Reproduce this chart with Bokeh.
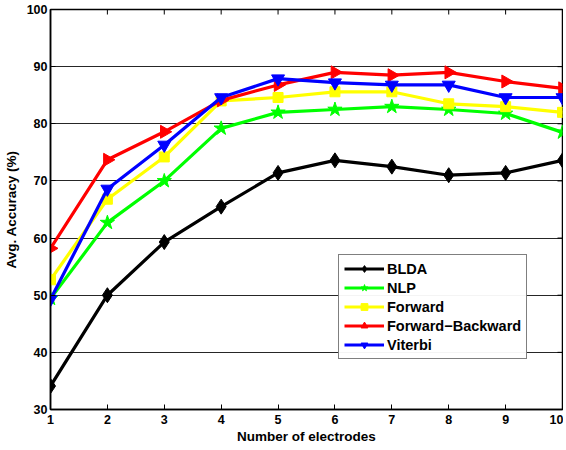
import numpy as np
from bokeh.plotting import figure
from bokeh.models import FixedTicker, Range1d, Legend
from bokeh.embed import file_html
from bokeh.resources import INLINE

electrodes = [1, 2, 3, 4, 5, 6, 7, 8, 9, 10]
blda = [34.1, 50.0, 59.3, 65.5, 71.4, 73.6, 72.5, 71.0, 71.4, 73.6]
nlp = [49.4, 62.7, 70.0, 79.2, 82.0, 82.5, 83.0, 82.5, 81.8, 78.5]
forward = [52.7, 66.8, 74.2, 84.0, 84.6, 85.6, 85.6, 83.5, 83.0, 82.0]
fwd_bwd = [58.2, 73.7, 78.6, 84.1, 86.8, 89.0, 88.5, 89.0, 87.4, 86.2]
viterbi = [49.3, 68.6, 76.3, 84.6, 87.9, 87.2, 86.8, 86.8, 84.6, 84.6]
y_ticks = [30, 40, 50, 60, 70, 80, 90, 100]

FONT = "Liberation Sans"
X_MIN, X_MAX, Y_MIN, Y_MAX = 1, 10, 30, 100

p = figure(width=563, height=446, output_backend="svg", toolbar_location=None,
           x_range=Range1d(X_MIN, X_MAX), y_range=Range1d(Y_MIN, Y_MAX),
           min_border_left=43, min_border_right=1, min_border_top=9, min_border_bottom=0)
p.outline_line_color = "black"
p.outline_line_width = 1.5

# inward ticks on top and right edges (clipped to frame)
p.scatter(electrodes, [Y_MAX] * len(electrodes), marker="dash", angle=np.pi / 2,
          size=10, line_color="black", line_width=1)
p.scatter([X_MAX] * len(y_ticks), y_ticks, marker="dash", size=10,
          line_color="black", line_width=1)

series = [
    ("BLDA", blda, "black", "diamond", 0.0, 15),
    ("NLP", nlp, "#00ff00", "star", 0.0, 15),
    ("Forward", forward, "#ffff00", "square", 0.0, 10),
    ("Forward\u2212Backward", fwd_bwd, "#ff0000", "triangle", -np.pi / 2, 13),
    ("Viterbi", viterbi, "#0000ff", "inverted_triangle", 0.0, 13),
]
items = []
for name, ys, col, mk, ang, sz in series:
    r1 = p.line(electrodes, ys, line_color=col, line_width=3.2)
    r2 = p.scatter(electrodes, ys, marker=mk, size=sz, angle=ang,
                   fill_color=col, line_color=col)
    items.append((name, [r1, r2]))

legend = Legend(items=items, location=(288, 50))
legend.label_text_font = FONT
legend.label_text_font_style = "bold"
legend.label_text_font_size = "14.5px"
legend.label_text_color = "black"
legend.border_line_color = "black"
legend.border_line_width = 1.5
legend.glyph_width = 40
legend.glyph_height = 17
legend.label_height = 17
legend.spacing = 2
legend.padding = 5
legend.margin = 0
legend.label_standoff = 3
p.add_layout(legend, "center")

for ax in [p.xaxis[0], p.yaxis[0]]:
    ax.major_label_text_font = FONT
    ax.major_label_text_font_style = "bold"
    ax.major_label_text_font_size = "12.5px"
    ax.major_label_text_color = "black"
    ax.axis_label_text_font = FONT
    ax.axis_label_text_font_style = "bold"
    ax.axis_label_text_font_size = "13.5px"
    ax.axis_label_text_color = "black"
    ax.major_tick_in = 5
    ax.major_tick_out = 0
    ax.minor_tick_in = 0
    ax.minor_tick_out = 0
    ax.axis_line_color = "black"
    ax.axis_line_width = 1.5
    ax.major_tick_line_color = "black"

p.xaxis[0].ticker = FixedTicker(ticks=electrodes)
p.yaxis[0].ticker = FixedTicker(ticks=y_ticks)
p.xaxis[0].axis_label = "Number of electrodes"
p.yaxis[0].axis_label = "Avg. Accuracy (%)"
p.xaxis[0].major_label_standoff = 5
p.xaxis[0].axis_label_standoff = 2
p.yaxis[0].major_label_standoff = 3
p.yaxis[0].axis_label_standoff = 5

p.xgrid.visible = False
p.ygrid.ticker = FixedTicker(ticks=y_ticks)
p.ygrid.grid_line_color = "black"
p.ygrid.grid_line_width = 1
p.ygrid.grid_line_alpha = 0.85

open("out.html", "w").write(file_html(p, INLINE))
